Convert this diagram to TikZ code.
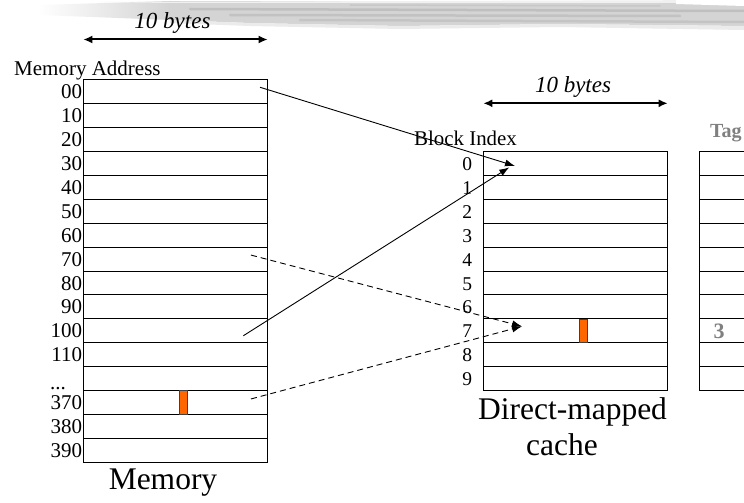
\documentclass[tikz,border=0pt]{standalone}
\usepackage{fontspec}
\setmainfont{Liberation Serif}
\usetikzlibrary{arrows.meta,calc,fadings}

\tikzfading[name=bandfade, left color=transparent!100, right color=transparent!0]

\tikzset{
  cell/.style={draw=black, line width=1pt, minimum width=184.4pt,
    minimum height=23.93pt, inner sep=0pt, outer sep=0pt},
  addr/.style={anchor=base east, inner sep=0pt, font=\fontsize{21}{21}\selectfont},
  idx/.style={anchor=base east, inner sep=0pt, font=\fontsize{19.5}{19.5}\selectfont},
  heading/.style={anchor=base west, inner sep=0pt, font=\fontsize{21}{21}\selectfont},
  bytes/.style={anchor=base, inner sep=0pt, font=\fontsize{23}{23}\selectfont\itshape},
  caption/.style={anchor=base, inner sep=0pt, font=\fontsize{31.5}{31.5}\selectfont},
  tagtext/.style={inner sep=0pt, text=black!50, font=\fontsize{20}{20}\selectfont\bfseries},
  hotbyte/.style={draw=black!75, line width=0.8pt, fill={rgb,255:red,255;green,102;blue,0},
    minimum width=8.4pt, minimum height=23.93pt, inner sep=0pt, outer sep=0pt},
  link/.style={line width=0.9pt, -{Latex[length=10pt,width=7pt]}},
  dlink/.style={link, dash pattern=on 6pt off 4pt},
  widtharrow/.style={line width=2pt, {Latex[length=9pt,width=8pt]}-{Latex[length=9pt,width=8pt]}},
  streak/.style={line width=2.5pt, opacity=0.45, line cap=round},
}

\begin{document}
\begin{tikzpicture}[x=1pt, y=-1pt]
  \useasboundingbox (0,0) rectangle (744,503);
  \clip (0,0) rectangle (744,503);
  \fill[white] (0,0) rectangle (744,503);

  % brushed grey band along the top edge
  \fill[black!17, path fading=bandfade] (40,5) -- (170,1) -- (170,20) -- (40,15) -- cycle;
  \fill[black!17] (170,1) -- (744,2) -- (744,26) -- (560,24) -- (400,26) -- (250,23) -- (170,20) -- cycle;
  \fill[black!8] (170,20) -- (250,23) -- (400,26) -- (560,24) -- (744,26)
    -- (744,30) -- (560,27) -- (400,29) -- (250,26) -- (170,23) -- cycle;
  \fill[black!6] (100,2) -- (744,0) -- (744,3) -- (170,3) -- cycle;
  \draw[streak, black!35] (190,9) -- (744,11);
  \draw[streak, black!32] (230,15) -- (680,16);
  \draw[streak, black!30] (300,20) -- (744,22);
  \draw[streak, black!28, line width=1.5pt] (350,5) -- (660,6);
  \fill[white] (676,0) -- (744,0) -- (744,6) -- (676,4) -- cycle;

  % main memory: 16 blocks of 10 bytes
  \foreach \i in {0,...,15} {
    \node[cell] (m\i) at (175.5, {79.6 + 23.93*(\i + 0.5)}) {};
  }
  \foreach \i/\t in {0/00, 1/10, 2/20, 3/30, 4/40, 5/50, 6/60, 7/70, 8/80, 9/90,
                     10/100, 11/110, 13/370, 14/380, 15/390} {
    \node[addr] (ma\i) at ($(m\i.west) + (-1,7)$) {\t};
  }
  \node[anchor=base west, inner sep=0pt, font=\fontsize{21}{21}\selectfont] (mdots)
    at (50,389) {...};
  \node[hotbyte] (mhot) at (183.5, {79.6 + 23.93*13.5}) {};

  \node[heading] (maddr) at (14,75.5) {Memory Address};
  \node[caption] (mcap) at (163,489) {Memory};

  \coordinate (mwl) at (83.3,39.5);
  \coordinate (mwr) at (267.7,39.5);
  \draw[widtharrow] (mwl) -- (mwr);
  \node[bytes] (mbytes) at (172.5,29) {10 bytes};

  % direct-mapped cache: 10 blocks
  \foreach \i in {0,...,9} {
    \node[cell] (c\i) at (575.5, {151.4 + 23.93*(\i + 0.5)}) {};
    \node[idx] (ci\i) at ($(c\i.west) + (-11,7)$) {\i};
  }
  \node[hotbyte] (chot) at (583.5, {151.4 + 23.93*7.5}) {};
  \node[anchor=base, inner sep=0pt, font=\fontsize{20.9}{20.9}\selectfont] (bidx)
    at (465.5,145) {Block Index};

  \coordinate (cwl) at (483.3,103.3);
  \coordinate (cwr) at (667.7,103.3);
  \draw[widtharrow] (cwl) -- (cwr);
  \node[bytes] (cbytes) at (573,92.7) {10 bytes};

  \node[caption] (ccap1) at (572.5,419) {Direct-mapped};
  \node[caption] (ccap2) at (562,455) {cache};

  % tag store
  \foreach \i in {0,...,9} {
    \node[cell] (t\i) at (791.5, {151.4 + 23.93*(\i + 0.5)}) {};
  }
  \node[tagtext, anchor=base west] (taghead) at (710,137) {Tag};
  \node[tagtext, anchor=base, font=\fontsize{22}{22}\selectfont\bfseries] (tag7)
    at (719,338.5) {3};

  % block placement
  \draw[link] ($(m0.east) + (-7.7,-4.3)$) -- ($(c0.west) + (31.7,2.6)$);
  \draw[link] ($(m10.east) + (-24.4,4.9)$) -- ($(c0.west) + (26,4)$);
  \draw[dlink] ($(m7.east) + (-16.7,-4)$) -- ($(c7.west) + (38.7,-4.5)$);
  \draw[dlink] ($(m13.east) + (-16.7,-3.7)$) -- ($(c7.west) + (38.7,-4.5)$);
\end{tikzpicture}
\end{document}
